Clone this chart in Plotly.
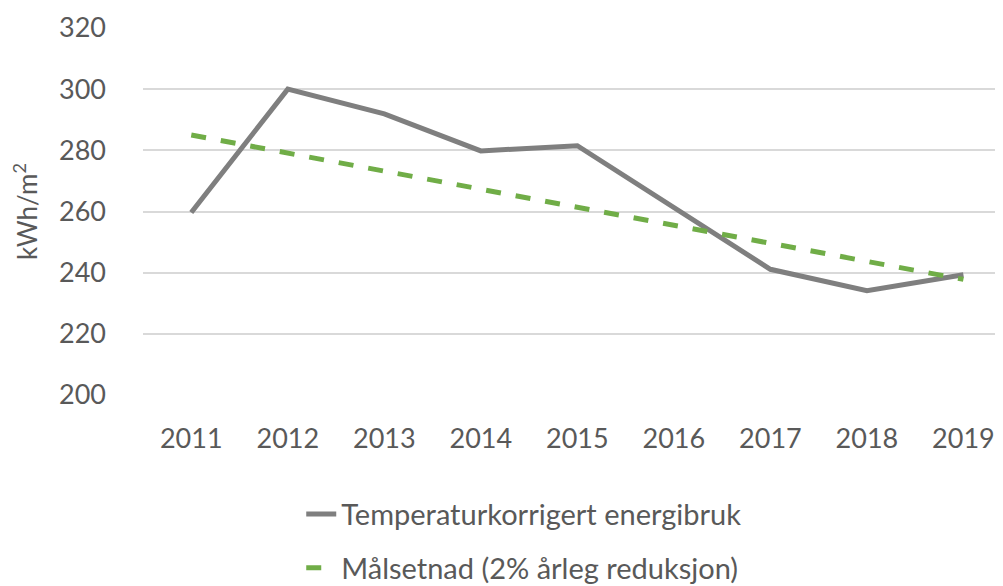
import plotly.graph_objects as go

years = [2011, 2012, 2013, 2014, 2015, 2016, 2017, 2018, 2019]
energibruk = [259.7, 300.0, 291.9, 279.8, 281.5, 261.3, 241.1, 234.1, 239.3]
malsetnad = [285.0, 279.1, 273.2, 267.3, 261.4, 255.5, 249.6, 243.7, 237.8]

y_ticks = [200, 220, 240, 260, 280, 300, 320]

font_name = 'Lato, Noto Sans, sans-serif'
text_grey = '#595959'

fig = go.Figure()

fig.add_trace(go.Scatter(x=years, y=energibruk, mode='lines',
                         name='Temperaturkorrigert energibruk',
                         legendgroup='a',
                         line=dict(color='#7f7f7f', width=5)))

fig.add_trace(go.Scatter(x=years, y=malsetnad, mode='lines',
                         name='Målsetnad (2% årleg reduksjon)',
                         legendgroup='b',
                         line=dict(color='#70ad47', width=5, dash='dash')))

# page body adds an 8px margin, so the figure is a bit smaller than the window
fig.update_layout(
    width=995,
    height=578,
    margin=dict(l=135, r=0, t=20, b=191, autoexpand=False),
    paper_bgcolor='white',
    plot_bgcolor='white',
    font=dict(family=font_name, size=27, color=text_grey),
    showlegend=True,
    legend=dict(
        orientation='v',
        x=0.184, xanchor='left',
        y=-0.255, yanchor='top',
        bgcolor='rgba(0,0,0,0)',
        font=dict(size=29, color=text_grey),
        tracegroupgap=13,
        itemwidth=30,
    ),
)

fig.update_xaxes(
    range=[2010.5, 2019.41],
    tickvals=years,
    ticktext=[str(y) for y in years],
    showgrid=False,
    zeroline=False,
    showline=False,
    ticks='',
    automargin=False,
    ticklabelstandoff=25,
)

fig.update_yaxes(
    range=[200, 320],
    tickvals=y_ticks,
    showgrid=True,
    gridcolor='#d9d9d9',
    gridwidth=2,
    zeroline=False,
    showline=False,
    ticks='',
    automargin=False,
    ticklabelstandoff=36,
    title=dict(text='kWh/m<sup>2</sup>', font=dict(size=26, color=text_grey), standoff=17),
)

fig.write_html("out.html")
